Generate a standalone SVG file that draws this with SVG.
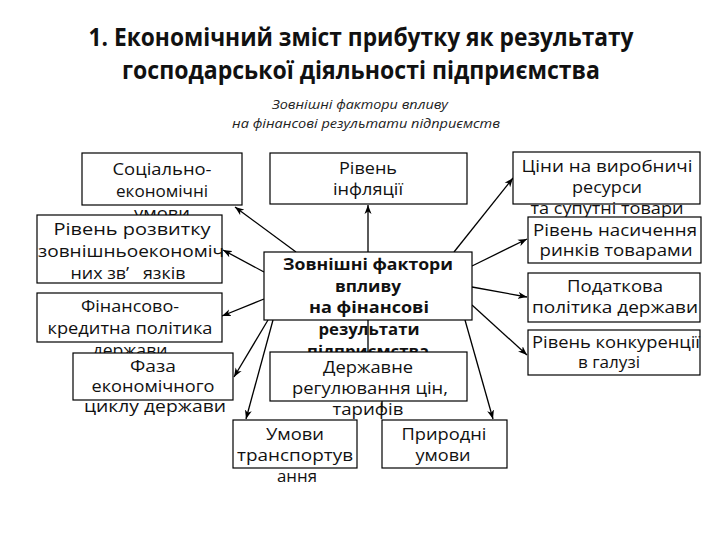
<svg xmlns="http://www.w3.org/2000/svg" width="720" height="540" viewBox="0 0 720 540">
<style>
.bg{fill:#ffffff}
.box{fill:#ffffff;stroke:#000000;stroke-width:1.2}
.t{font-family:"Open Sans","Noto Sans",sans-serif;font-size:16.5px;fill:#111111;text-anchor:middle}
.b{font-weight:bold}
.title{font-family:"Open Sans","Noto Sans",sans-serif;font-size:25px;font-weight:bold;fill:#111111;text-anchor:middle}
.sub{font-family:"Open Sans","Noto Sans",sans-serif;font-size:13px;font-style:italic;fill:#222222;text-anchor:middle}
.ln{stroke:#000000;stroke-width:1.3;fill:none}
.ar{marker-end:url(#arr)}
</style>
<defs>
<marker id="arr" markerUnits="userSpaceOnUse" markerWidth="10" markerHeight="8" refX="9" refY="4" orient="auto">
<path d="M0,0.5 L9,4 L0,7.5 L2.5,4 Z" fill="#000000"/>
</marker>
</defs>
<rect class="bg" x="0" y="0" width="720" height="540"/>
<g id="title">
<text class="title" x="361" y="46" textLength="545" lengthAdjust="spacingAndGlyphs">1. Економічний зміст прибутку як результату</text>
<text class="title" x="361" y="79" textLength="478" lengthAdjust="spacingAndGlyphs">господарської діяльності підприємства</text>
<text class="sub" x="360" y="109" textLength="176" lengthAdjust="spacingAndGlyphs">Зовнішні фактори впливу</text>
<text class="sub" x="366" y="128" textLength="268" lengthAdjust="spacingAndGlyphs">на фінансові результати підприємств</text>
</g>
<g id="connectors">
<line class="ln ar" x1="296" y1="252" x2="235" y2="207"/>
<line class="ln ar" x1="264" y1="272" x2="223" y2="250"/>
<line class="ln ar" x1="368" y1="252" x2="368" y2="205"/>
<line class="ln ar" x1="454" y1="252" x2="513" y2="178"/>
<line class="ln ar" x1="472" y1="266" x2="527" y2="239"/>
<line class="ln ar" x1="472" y1="287" x2="527" y2="297"/>
<line class="ln ar" x1="472" y1="305" x2="527" y2="355"/>
<line class="ln ar" x1="264" y1="299" x2="222" y2="316"/>
<line class="ln ar" x1="268" y1="320" x2="234" y2="377"/>
<line class="ln ar" x1="273" y1="320" x2="246" y2="419"/>
<line class="ln ar" x1="465" y1="320" x2="493" y2="419"/>
<line class="ln" x1="368" y1="320" x2="368" y2="352"/>
<line class="ln" x1="382" y1="401" x2="382" y2="412"/>
</g>
<g id="node-socio">
<rect class="box" x="82" y="153" width="160" height="52"/>
<text class="t" x="162" y="175" textLength="99" lengthAdjust="spacingAndGlyphs">Соціально-</text>
<text class="t" x="162" y="197" textLength="92" lengthAdjust="spacingAndGlyphs">економічні</text>
<text class="t" x="162" y="219" textLength="56" lengthAdjust="spacingAndGlyphs">умови</text>
</g>
<g id="node-foreign">
<rect class="box" x="37" y="215" width="185" height="68"/>
<text class="t" x="132" y="235" textLength="157" lengthAdjust="spacingAndGlyphs">Рівень розвитку</text>
<text class="t" x="131" y="257" textLength="186" lengthAdjust="spacingAndGlyphs">зовнішньоекономіч</text>
<text class="t" x="128" y="279" textLength="115" lengthAdjust="spacingAndGlyphs" xml:space="preserve">них зв’   язків</text>
</g>
<g id="node-fin">
<rect class="box" x="37" y="293" width="185" height="49"/>
<text class="t" x="130" y="312" textLength="98" lengthAdjust="spacingAndGlyphs">Фінансово-</text>
<text class="t" x="130" y="334" textLength="165" lengthAdjust="spacingAndGlyphs">кредитна політика</text>
<text class="t" x="130" y="356" textLength="75" lengthAdjust="spacingAndGlyphs">держави</text>
</g>
<g id="node-phase">
<rect class="box" x="73" y="353" width="160" height="47"/>
<text class="t" x="153" y="372" textLength="46" lengthAdjust="spacingAndGlyphs">Фаза</text>
<text class="t" x="153" y="392" textLength="123" lengthAdjust="spacingAndGlyphs">економічного</text>
<text class="t" x="155" y="412" textLength="142" lengthAdjust="spacingAndGlyphs">циклу держави</text>
</g>
<g id="node-infl">
<rect class="box" x="270" y="153" width="197" height="51"/>
<text class="t" x="368" y="174" textLength="58" lengthAdjust="spacingAndGlyphs">Рівень</text>
<text class="t" x="368" y="195" textLength="70" lengthAdjust="spacingAndGlyphs">інфляції</text>
</g>
<g id="node-center">
<rect class="box" x="264" y="252" width="208" height="68"/>
<text class="t b" x="368" y="270" textLength="170" lengthAdjust="spacingAndGlyphs">Зовнішні фактори</text>
<text class="t b" x="368" y="292" textLength="66" lengthAdjust="spacingAndGlyphs">впливу</text>
<text class="t b" x="369" y="313" textLength="120" lengthAdjust="spacingAndGlyphs">на фінансові</text>
<text class="t b" x="369" y="335" textLength="101" lengthAdjust="spacingAndGlyphs">результати</text>
<text class="t b" x="368" y="357" textLength="122" lengthAdjust="spacingAndGlyphs">підприємства</text>
</g>
<g id="node-state">
<rect class="box" x="270" y="352" width="197" height="49"/>
<text class="t" x="368" y="373" textLength="90" lengthAdjust="spacingAndGlyphs">Державне</text>
<text class="t" x="370" y="394" textLength="156" lengthAdjust="spacingAndGlyphs">регулювання цін,</text>
<text class="t" x="368" y="415" textLength="71" lengthAdjust="spacingAndGlyphs">тарифів</text>
</g>
<g id="node-transport">
<rect class="box" x="233" y="420" width="124" height="48"/>
<text class="t" x="295" y="440" textLength="58" lengthAdjust="spacingAndGlyphs">Умови</text>
<text class="t" x="295" y="461" textLength="116" lengthAdjust="spacingAndGlyphs">транспортув</text>
<text class="t" x="297" y="482" textLength="40" lengthAdjust="spacingAndGlyphs">ання</text>
</g>
<g id="node-nature">
<rect class="box" x="382" y="420" width="125" height="48"/>
<text class="t" x="444" y="440" textLength="85" lengthAdjust="spacingAndGlyphs">Природні</text>
<text class="t" x="443" y="461" textLength="55" lengthAdjust="spacingAndGlyphs">умови</text>
</g>
<g id="node-prices">
<rect class="box" x="513" y="152" width="187" height="52"/>
<text class="t" x="607" y="172" textLength="171" lengthAdjust="spacingAndGlyphs">Ціни на виробничі</text>
<text class="t" x="607" y="193" textLength="70" lengthAdjust="spacingAndGlyphs">ресурси</text>
<text class="t" x="607" y="214" textLength="153" lengthAdjust="spacingAndGlyphs">та супутні товари</text>
</g>
<g id="node-saturation">
<rect class="box" x="528" y="217" width="173" height="46"/>
<text class="t" x="615" y="236" textLength="164" lengthAdjust="spacingAndGlyphs">Рівень насичення</text>
<text class="t" x="616" y="256" textLength="153" lengthAdjust="spacingAndGlyphs">ринків товарами</text>
</g>
<g id="node-tax">
<rect class="box" x="528" y="273" width="172" height="49"/>
<text class="t" x="615" y="292" textLength="96" lengthAdjust="spacingAndGlyphs">Податкова</text>
<text class="t" x="615" y="313" textLength="166" lengthAdjust="spacingAndGlyphs">політика держави</text>
</g>
<g id="node-competition">
<rect class="box" x="528" y="330" width="172" height="45"/>
<text class="t" x="616" y="348" textLength="168" lengthAdjust="spacingAndGlyphs">Рівень конкуренції</text>
<text class="t" x="609" y="368" textLength="62" lengthAdjust="spacingAndGlyphs">в галузі</text>
</g>
</svg>
